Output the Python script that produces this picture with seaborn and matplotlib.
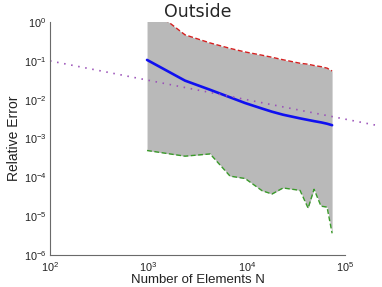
# plot.py
# Relative error vs number of elements ("Outside"), log-log, MATLAB-like look

import numpy as np
import pandas as pd
import matplotlib.pyplot as plt
import seaborn as sns

# Values
N = [970, 2360, 4250, 6780, 9640, 14360, 18100, 23450, 34900, 42200,
     48500, 57100, 65800, 74000]
err_mean = [0.106, 0.031, 0.018, 0.0115, 0.0082, 0.0059, 0.0049, 0.0041,
            0.0033, 0.0030, 0.0028, 0.0026, 0.0024, 0.0022]
err_max = [2.7, 0.47, 0.29, 0.21, 0.17, 0.14, 0.124, 0.107, 0.087, 0.082,
           0.076, 0.071, 0.065, 0.055]
err_min = [4.9e-4, 3.5e-4, 4.0e-4, 1.07e-4, 9.3e-5, 4.5e-5, 3.7e-5, 5.3e-5,
           4.6e-5, 1.6e-5, 4.9e-5, 1.8e-5, 1.7e-5, 3.6e-6]
ref_N = [1e2, 2.22e5]
ref_err = [1e-1, 2.12e-3]

df = pd.DataFrame({"N": N, "mean": err_mean, "max": err_max, "min": err_min})
ref = pd.DataFrame({"N": ref_N, "err": ref_err})

sns.set_style("white")
plt.rcParams["font.family"] = ["Liberation Sans", "DejaVu Sans"]
plt.rcParams["mathtext.fontset"] = "custom"
plt.rcParams["mathtext.rm"] = "Liberation Sans"
plt.rcParams["mathtext.it"] = "Liberation Sans:italic"

fig = plt.figure(figsize=(3.82, 2.87), dpi=100)
ax = fig.add_axes([0.131, 0.112, 0.772, 0.811])

ax.fill_between(df["N"], df["min"], df["max"], color="#b9b9b9", lw=0)
sns.lineplot(data=df, x="N", y="max", ax=ax, color="#d42020", lw=1.0,
             dashes=False, linestyle=(0, (3.5, 1.8)))
sns.lineplot(data=df, x="N", y="min", ax=ax, color="#3a9a2a", lw=1.0,
             dashes=False, linestyle=(0, (3.5, 1.8)))
sns.lineplot(data=df, x="N", y="mean", ax=ax, color="#1010f0", lw=1.9)
sns.lineplot(data=ref, x="N", y="err", ax=ax, color="#9a50b8", lw=1.2,
             linestyle=(0, (0.9, 3.4)), clip_on=False)

ax.set_xscale("log")
ax.set_yscale("log")
ax.set_xlim(1e2, 1e5)
ax.set_ylim(1e-6, 1e0)
ax.set_xticks([1e2, 1e3, 1e4, 1e5])
ax.set_yticks([1e-6, 1e-5, 1e-4, 1e-3, 1e-2, 1e-1, 1e0])
ax.minorticks_off()

for s in ["top", "right"]:
    ax.spines[s].set_visible(False)
for s in ["left", "bottom"]:
    ax.spines[s].set_color("#6a6a6a")
    ax.spines[s].set_linewidth(0.8)
ax.tick_params(direction="in", length=2, width=0.6, color="#6a6a6a",
               labelsize=7.8, labelcolor="#222222")
ax.tick_params(axis="x", pad=3.5)
ax.tick_params(axis="y", pad=2.5)

ax.set_title("Outside", fontsize=12.5, family="DejaVu Sans", pad=4)
ax.set_xlabel("Number of Elements N", fontsize=9.5, color="#222222", labelpad=0)
ax.set_ylabel("Relative Error", fontsize=10, color="#222222", labelpad=2)

fig.savefig("out.png", dpi=100)
plt.close(fig)
